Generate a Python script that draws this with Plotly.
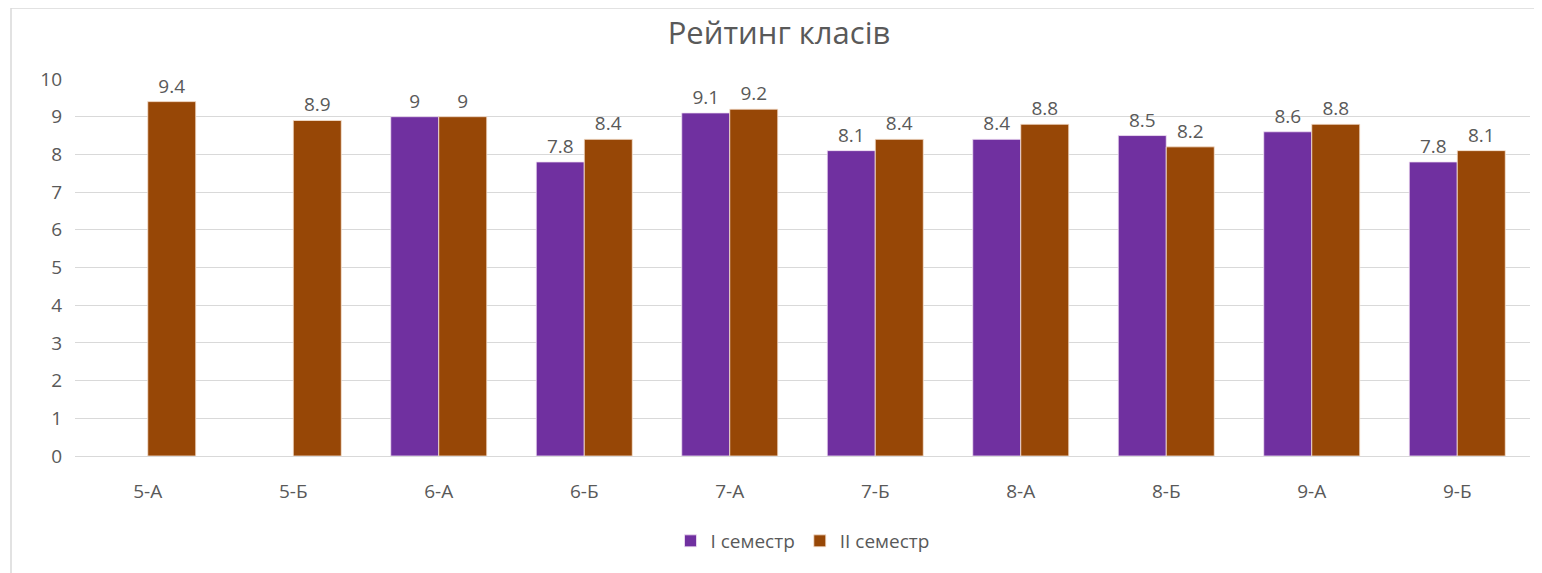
import plotly.graph_objects as go

classes = ["5-А", "5-Б", "6-А", "6-Б", "7-А", "7-Б", "8-А", "8-Б", "9-А", "9-Б"]
sem1 = [None, None, 9, 7.8, 9.1, 8.1, 8.4, 8.5, 8.6, 7.8]
sem2 = [9.4, 8.9, 9, 8.4, 9.2, 8.4, 8.8, 8.2, 8.8, 8.1]

W, H = 1542, 573
# page body adds an 8px offset, so margins are shifted accordingly
L, R, T, B = 67, 20, 71, 125
pw, ph = W - L - R, H - T - B

font = "Open Sans, DejaVu Sans, sans-serif"
grey = "#595959"

fig = go.Figure()
fig.add_trace(go.Bar(
    x=classes, y=sem1, name="I семестр",
    marker=dict(color="#7030A0", line=dict(color="#f3e3f5", width=0.8)),
    text=[("" if v is None else f"{v:g}") for v in sem1],
    textposition="outside", cliponaxis=False,
    textfont=dict(size=19, color=grey, family=font),
))
fig.add_trace(go.Bar(
    x=classes, y=sem2, name="II семестр",
    marker=dict(color="#974706", line=dict(color="#f7e4d5", width=0.8)),
    text=[f"{v:g}" for v in sem2],
    textposition="outside", cliponaxis=False,
    textfont=dict(size=19, color=grey, family=font),
))

# light outer frame of the chart
fig.add_shape(type="rect", xref="paper", yref="paper",
              x0=(3 - L) / pw, x1=(W + 20 - L) / pw,
              y0=-(H + 20 - T - ph) / ph, y1=(H - B) / ph,
              line=dict(color="#d9d9d9", width=1.5), layer="below")

fig.update_layout(
    width=W, height=H,
    margin=dict(l=L, r=R, t=T, b=B),
    paper_bgcolor="white", plot_bgcolor="white",
    barmode="group", bargap=0.34, bargroupgap=0,
    title=dict(text="Рейтинг класів", x=0.5, xanchor="center",
               y=1 - 25 / H, yanchor="middle",
               font=dict(size=31, color=grey, family=font)),
    font=dict(family=font, color=grey),
    showlegend=True,
    legend=dict(orientation="h", x=0.5, xanchor="center", y=-85 / ph, yanchor="middle",
                font=dict(size=19, color=grey, family=font),
                itemwidth=30, traceorder="normal"),
)
fig.update_xaxes(showgrid=False, showline=False, ticks="",
                 tickfont=dict(size=19, color=grey), ticklabelstandoff=22)
fig.update_yaxes(range=[0, 10], dtick=1, showgrid=True, gridcolor="#d9d9d9", gridwidth=1.2,
                 zeroline=True, zerolinecolor="#d9d9d9", zerolinewidth=1.2,
                 showline=False, ticks="", tickfont=dict(size=19, color=grey),
                 ticklabelstandoff=12)

fig.write_html("out.html")
